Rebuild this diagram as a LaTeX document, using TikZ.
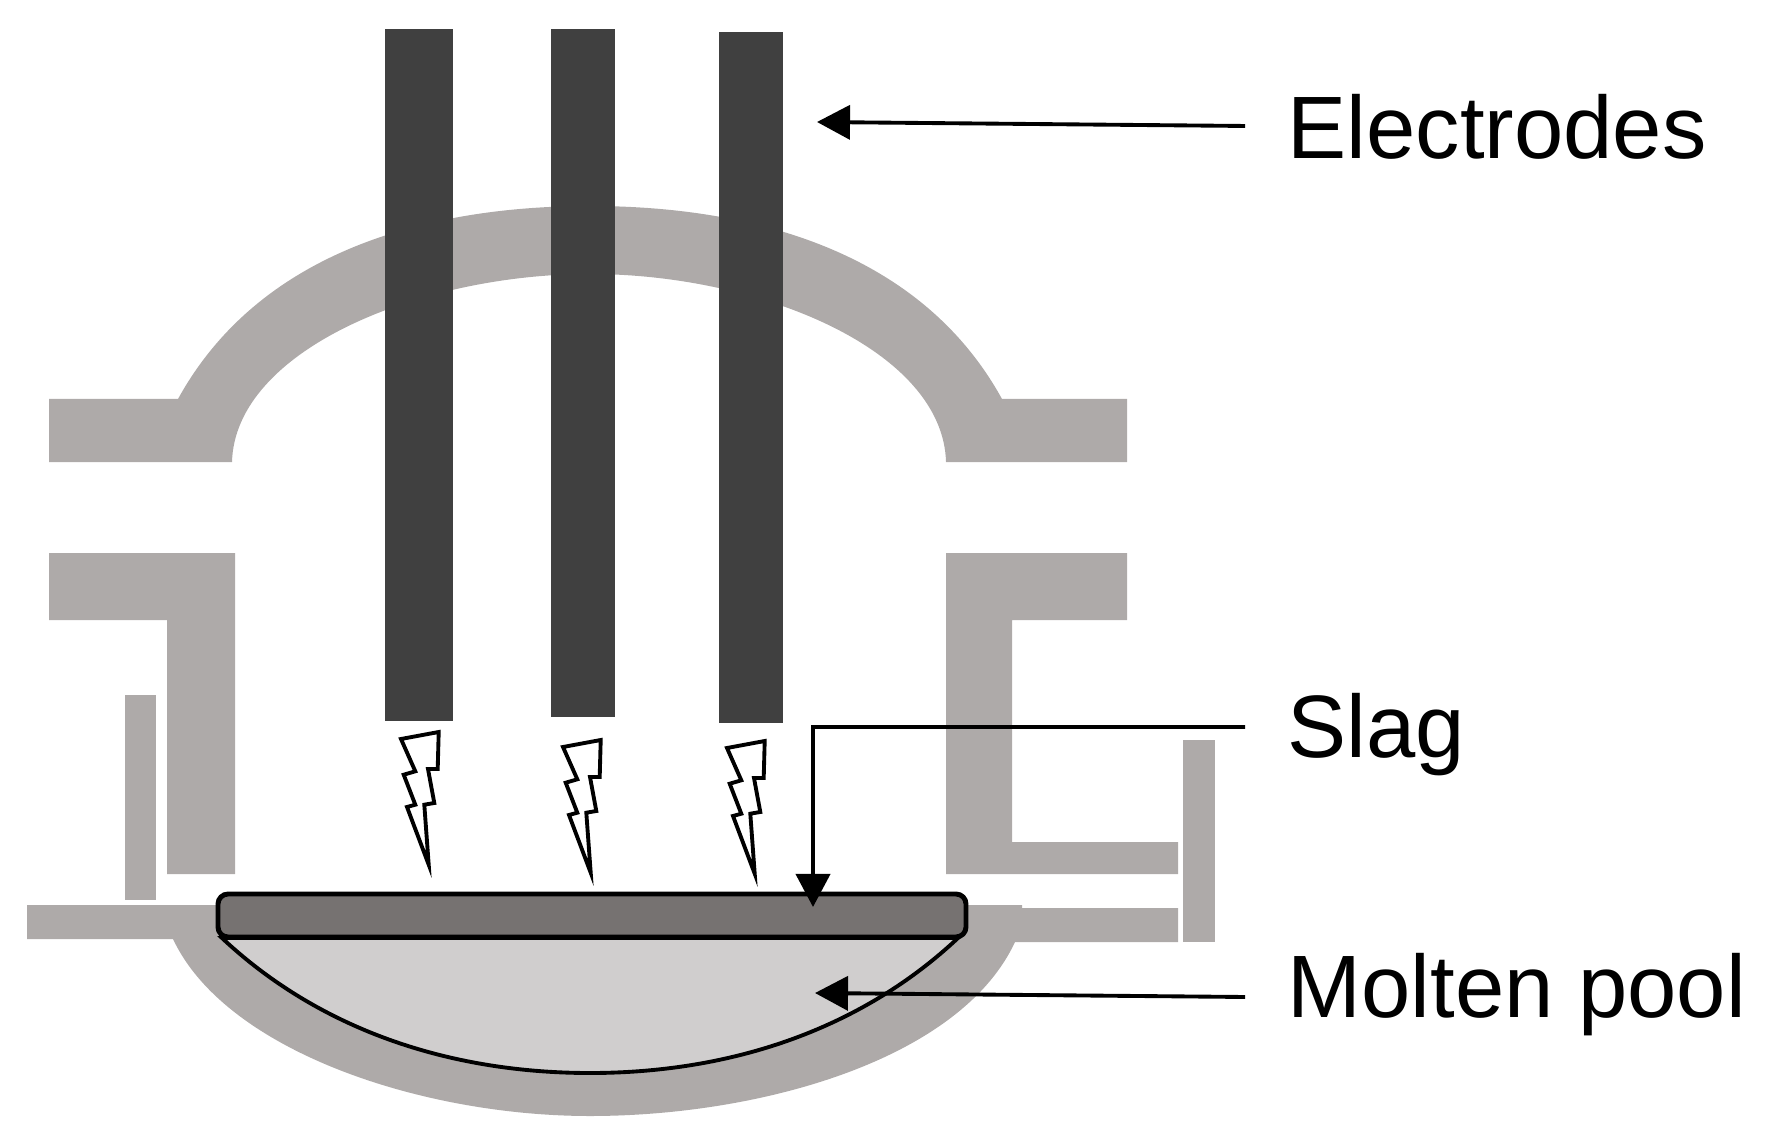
\documentclass[tikz,border=0pt]{standalone}
\usepackage{fontspec}
\setmainfont{Liberation Sans}
\usepackage{xcolor}
\usetikzlibrary{arrows.meta}
\definecolor{wallgray}{HTML}{AEAAA9}
\definecolor{rodgray}{HTML}{404040}
\definecolor{slaggray}{HTML}{767271}
\definecolor{poolgray}{HTML}{D0CECE}
\tikzset{
  wall/.style     = {fill=wallgray,draw=none},
  callout/.style  = {-{Triangle[length=3.3mm,width=3.4mm]},line width=1.1pt},
  sparkline/.style= {draw=black,fill=white,line width=1.1pt,line join=miter,miter limit=10},
  lbl/.style      = {anchor=base west,font=\fontsize{25.2}{30}\selectfont,inner xsep=0.42cm,inner ysep=0pt,text depth=0pt}
}
\newcommand{\spark}[2]{%
  \draw[sparkline] (#1,#2) -- ++(37.7,-7) -- ++(-1,37) -- ++(-9.7,0) -- ++(6.3,34) -- ++(-10,1.7)
    -- ++(4.4,60) -- ++(-21.7,-57.7) -- ++(8.3,-2.3) -- ++(-11.6,-30) -- ++(11.6,-3.4) -- cycle;
}

\begin{document}
\begin{tikzpicture}[x=0.01cm,y=-0.01cm]
  \useasboundingbox (0,0) rectangle (1776,1146);
  % furnace roof and walls
  \fill[wall] (49,399) -- (178,399) .. controls (260,250) and (430,206) .. (590,206)
    .. controls (750,206) and (920,250) .. (1002,399) -- (1127,399) -- (1127,462) -- (946,462)
    .. controls (943,350) and (760,274) .. (590,274) .. controls (420,274) and (235,350) .. (232,462)
    -- (49,462) -- cycle;
  \fill[wall] (49,553) -- (235,553) -- (235,874) -- (167,874) -- (167,620) -- (49,620) -- cycle;
  \fill[wall] (946,553) -- (1127,553) -- (1127,620) -- (1012,620) -- (1012,842) -- (1178,842)
    -- (1178,874) -- (946,874) -- cycle;
  \fill[wall] (125,695) rectangle (156,900);
  \fill[wall] (1183,740) rectangle (1215,942);
  % hearth
  \fill[wall] (27,905) -- (1022,905) -- (1022,908) -- (1178,908) -- (1178,942) -- (1015,942)
    .. controls (960,1060) and (760,1116) .. (590,1116) .. controls (420,1116) and (225,1050) .. (173,939)
    -- (27,939) -- cycle;
  \draw[fill=poolgray,line width=1.1pt] (222,938) .. controls (320,1030) and (450,1073) .. (590,1073)
    .. controls (730,1073) and (860,1030) .. (958,938) -- cycle;
  \draw[fill=slaggray,line width=1.4pt,rounded corners=0.1cm] (218,894) rectangle (966,937);
  % electrodes
  \foreach \xa/\xb/\ya/\yb in {385/453/29/721, 551/615/29/717, 719/783/32/723}
    \fill[rodgray] (\xa,\ya) rectangle (\xb,\yb);
  \spark{401}{739}
  \spark{563}{747}
  \spark{727}{748}
  % labels
  \node[lbl] (lblElec) at (1245,159) {Electrodes};
  \node[lbl] (lblSlag) at (1245,757) {Slag};
  \node[lbl] (lblPool) at (1245,1017) {Molten pool};
  \coordinate (tipElec) at (817,122);
  \coordinate (bendSlag) at (813,727);
  \coordinate (tipSlag) at (813,907);
  \coordinate (tipPool) at (815,993);
  \draw[callout] ([yshift=0.33cm]lblElec.base west) -- (tipElec);
  \draw[callout] ([yshift=0.30cm]lblSlag.base west) -- (bendSlag) -- (tipSlag);
  \draw[callout] ([yshift=0.20cm]lblPool.base west) -- (tipPool);
\end{tikzpicture}
\end{document}
